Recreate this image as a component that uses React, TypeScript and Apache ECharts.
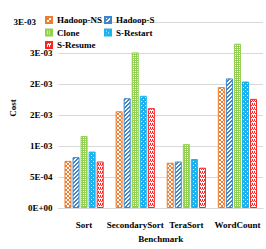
import React, { useEffect, useRef } from "react";
import * as echarts from "echarts";

const categories = ["Sort", "SecondarySort", "TeraSort", "WordCount"];
const seriesNames = ["Hadoop-NS", "Hadoop-S", "Clone", "S-Restart", "S-Resume"];
const hadoopNS = [0.00076, 0.00156, 0.00073, 0.00195];
const hadoopS = [0.00082, 0.00177, 0.00075, 0.00209];
const clone = [0.00116, 0.00251, 0.00103, 0.00265];
const sRestart = [0.00091, 0.00181, 0.00079, 0.00204];
const sResume = [0.00075, 0.00161, 0.00065, 0.00176];
const yTickLabels = ["0E+00", "5E-04", "1E-03", "2E-03", "2E-03", "3E-03", "3E-03"];

const seriesValues = [hadoopNS, hadoopS, clone, sRestart, sResume];
const seriesColors = ["#ED7D31", "#3E86CC", "#92D050", "#19B4F0", "#FF2020"];

function makeTile(size: number, fg: string, bg: string, pixels: number[][]) {
  const c = document.createElement("canvas");
  c.width = size;
  c.height = size;
  const ctx = c.getContext("2d")!;
  ctx.fillStyle = bg;
  ctx.fillRect(0, 0, size, size);
  ctx.fillStyle = fg;
  pixels.forEach(([x, y]) => ctx.fillRect(x, y, 1, 1));
  return { image: c.toDataURL(), repeat: "repeat", imageWidth: size, imageHeight: size } as any;
}

const tilePixels: { bgFg: boolean; px: number[][] }[] = [
  { bgFg: false, px: [[0, 0], [1, 1], [2, 2], [3, 3], [3, 0], [2, 1], [1, 2], [0, 3]] },
  { bgFg: false, px: [[0, 3], [1, 2], [2, 1], [3, 0], [0, 0], [1, 3], [2, 2], [3, 1]] },
  { bgFg: true, px: [[1, 1], [3, 3], [1, 3], [3, 1]] },
  { bgFg: true, px: [[1, 1], [3, 3]] },
  { bgFg: false, px: [[0, 0], [2, 0], [1, 1], [3, 1], [0, 3], [2, 3]] },
];

export default function App() {
  const ref = useRef<HTMLDivElement>(null);
  useEffect(() => {
    if (!ref.current) return;
    const chart = echarts.init(ref.current, undefined, { renderer: "svg" });
    const font = "Liberation Serif";
    const patterns = seriesColors.map((col, i) => {
      const t = tilePixels[i];
      return t.bgFg ? makeTile(4, "#ffffff", col, t.px) : makeTile(4, col, "#ffffff", t.px);
    });
    const legendPos = [
      [45, 15.5],
      [104, 15.5],
      [45, 28],
      [104, 28],
      [45, 40.5],
    ];
    const yMax = 0.003;
    chart.setOption({
      animation: false,
      backgroundColor: "#ffffff",
      grid: { left: 42, right: 3, top: 22, bottom: 41, containLabel: false },
      legend: seriesNames.map((n, i) => ({
        data: [n],
        left: legendPos[i][0],
        top: legendPos[i][1],
        padding: 0,
        itemWidth: 6,
        itemHeight: 6,
        icon: "rect",
        textStyle: { fontFamily: font, fontWeight: "bold", fontSize: 9, color: "#000" },
      })),
      xAxis: {
        type: "category",
        data: categories,
        axisTick: { show: false },
        axisLine: { lineStyle: { color: "#D9D9D9" } },
        axisLabel: { interval: 0, margin: 12, fontFamily: font, fontWeight: "bold", fontSize: 9, color: "#000" },
        name: "Benchmark",
        nameLocation: "middle",
        nameGap: 26,
        nameTextStyle: { fontFamily: font, fontWeight: "bold", fontSize: 9, color: "#000" },
      },
      yAxis: {
        type: "value",
        min: 0,
        max: yMax,
        interval: 0.0005,
        axisLine: { show: false },
        axisTick: { show: false },
        splitLine: { lineStyle: { color: "#D9D9D9" } },
        axisLabel: {
          margin: 6,
          showMaxLabel: false,
          fontFamily: font,
          fontWeight: "bold",
          fontSize: 9,
          color: "#000",
          formatter: (v: number) => yTickLabels[Math.round(v / 0.0005)] ?? "",
        },
        name: "Cost",
        nameLocation: "middle",
        nameGap: 30,
        nameTextStyle: { fontFamily: font, fontWeight: "bold", fontSize: 9, color: "#000", padding: [0, 0, 0, 14] },
      },
      graphic: [
        {
          type: "text",
          right: 266 - 36,
          top: 22 - 5,
          style: {
            text: yTickLabels[yTickLabels.length - 1],
            fontFamily: font,
            fontWeight: "bold",
            fontSize: 9,
            fill: "#000",
          },
        },
      ],
      series: seriesNames.map((n, i) => ({
        name: n,
        type: "bar",
        data: seriesValues[i],
        barWidth: 7,
        barGap: "15%",
        itemStyle: { color: patterns[i], borderColor: seriesColors[i], borderWidth: 1 },
      })),
    });
    return () => chart.dispose();
  }, []);
  return (
    <div
      ref={ref}
      style={{ position: "fixed", left: 0, top: 0, width: 266, height: 249 }}
    />
  );
}
